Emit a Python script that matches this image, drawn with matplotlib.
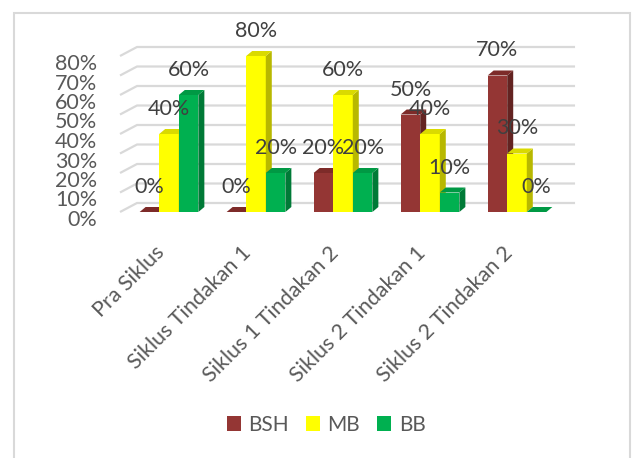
import matplotlib
matplotlib.use("Agg")
import matplotlib.pyplot as plt
from matplotlib.patches import Polygon, Rectangle
from matplotlib.transforms import ScaledTranslation
import numpy as np

categories = ["Pra Siklus", "Siklus Tindakan 1", "Siklus 1 Tindakan 2",
              "Siklus 2 Tindakan 1", "Siklus 2 Tindakan 2"]
series_names = ["BSH", "MB", "BB"]
bsh = [0.0, 0.0, 0.2, 0.5, 0.7]
mb = [0.4, 0.8, 0.6, 0.4, 0.3]
bb = [0.6, 0.2, 0.2, 0.1, 0.0]
yticks = [0.0, 0.1, 0.2, 0.3, 0.4, 0.5, 0.6, 0.7, 0.8]

front_colors = ["#943634", "#FFFF00", "#00B050"]
side_colors = ["#632321", "#B8B800", "#007A37"]
top_colors = ["#7D2B29", "#DADA00", "#009944"]

plt.rcParams['font.family'] = ['Lato', 'DejaVu Sans']

W, H = 633, 458
fig = plt.figure(figsize=(W / 100, H / 100), dpi=100)

# outer border
fig.patches.append(Rectangle((14 / W, -0.05), (630 - 14) / W, 1 - 13 / H + 0.05,
                             transform=fig.transFigure, fill=False,
                             edgecolor="#D9D9D9", linewidth=1.5))

ax = fig.add_axes([100 / W, 1 - 212 / H, 500 / W, 156 / H])
ax.set_xlim(-0.793, 4.954)
ax.set_ylim(0, 0.8)
for s in ax.spines.values():
    s.set_visible(False)
ax.set_facecolor("none")

px_x = 1 / 87.0
px_y = 0.8 / 156.0

# back wall gridlines with floor diagonals
wdx, wdy = 17 * px_x, 9 * px_y
x_front = -0.563
x_back_end = 4.667
for v in yticks:
    ax.plot([x_front, x_front + wdx, x_back_end], [v, v + wdy, v + wdy],
            color="#D9D9D9", linewidth=1.6, zorder=1, clip_on=False,
            solid_capstyle="butt")

# bars with pseudo 3D faces
bw = 0.225
bdx, bdy = 6 * px_x, 5 * px_y
data = [bsh, mb, bb]
x = np.arange(len(categories))
offsets = [-bw, 0.0, bw]
z = 3
for i in range(len(categories)):
    for k in range(3):
        h = data[k][i]
        xl = x[i] + offsets[k] - bw / 2
        xr = xl + bw
        ax.bar(x[i] + offsets[k], h, width=bw, color=front_colors[k],
               zorder=z, linewidth=0)
        ax.add_patch(Polygon([(xr, 0), (xr, h), (xr + bdx, h + bdy), (xr + bdx, bdy)],
                             closed=True, facecolor=side_colors[k], edgecolor="none",
                             zorder=z, clip_on=False))
        ax.add_patch(Polygon([(xl, h), (xr, h), (xr + bdx, h + bdy), (xl + bdx, h + bdy)],
                             closed=True, facecolor=top_colors[k], edgecolor="none",
                             zorder=z, clip_on=False))
        z += 1

# data labels
for i in range(len(categories)):
    for k in range(3):
        h = data[k][i]
        ax.annotate(f"{h * 100:.0f}%", (x[i] + offsets[k], h),
                    xytext=(0, 18), textcoords="offset points",
                    ha="center", va="center", fontsize=15.5, color="#404040",
                    zorder=50, annotation_clip=False)

# y tick labels
ax.set_yticks(yticks)
ax.set_yticklabels([f"{v * 100:.0f}%" for v in yticks])
ax.tick_params(axis="y", length=0, pad=2, labelsize=15.5, labelcolor="#595959")
for lbl in ax.get_yticklabels():
    lbl.set_transform(lbl.get_transform() + ScaledTranslation(0, -6 / 100, fig.dpi_scale_trans))

# x tick labels
ax.set_xticks(x)
ax.set_xticklabels(categories, rotation=45, ha="right", va="top",
                   rotation_mode="anchor")
ax.tick_params(axis="x", length=0, pad=22, labelsize=15.5, labelcolor="#595959")
for lbl in ax.get_xticklabels():
    lbl.set_transform(lbl.get_transform() + ScaledTranslation(-15 / 100, 0, fig.dpi_scale_trans))

# legend
handles = [Rectangle((0, 0), 1, 1, facecolor=c, edgecolor="none") for c in front_colors]
fig.legend(handles, series_names, loc="center", bbox_to_anchor=(326 / W, 1 - 425 / H),
           ncol=3, frameon=False, fontsize=15, labelcolor="#595959",
           handlelength=0.7, handleheight=0.7, handletextpad=0.35,
           columnspacing=0.8)

fig.savefig("out.png", dpi=100)
